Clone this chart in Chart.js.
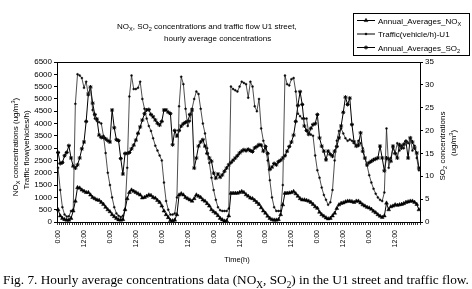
<!DOCTYPE html>
<html>
<head>
<meta charset="utf-8">
<script src="https://cdn.jsdelivr.net/npm/chart.js@4.4.1/dist/chart.umd.min.js"></script>
<style>
  html, body { margin: 0; padding: 0; background: #fff; }
  canvas { display: block; }
</style>
</head>
<body>
<canvas id="grafico" width="472" height="289"></canvas>
<script>
// 7 days of hourly values
const tickLabels = ['0:00', '12:00']
const hours = []
for (let d = 0; d < 7; d++) {
  for (let h = 0; h < 24; h++) hours.push(h === 0 ? tickLabels[0] : h === 12 ? tickLabels[1] : '')
}

// NOx (ug/m3) - left axis
const nox = [
  500, 250, 150, 100, 80, 80, 150, 450, 850, 1400, 1380, 1300, 1250, 1200, 1200, 1100, 1000, 950, 900, 880, 800, 720, 600, 500,
  420, 300, 220, 150, 90, 80, 100, 500, 950, 1200, 1300, 1250, 1200, 1150, 1100, 980, 1000, 1050, 1100, 1080, 1000, 970, 880, 800,
  650, 450, 300, 180, 60, 50, 80, 300, 1100, 1150, 1100, 1000, 950, 900, 850, 950, 1100, 1050, 1000, 900, 850, 750, 650, 500,
  420, 360, 260, 150, 90, 40, 50, 250, 1170, 1170, 1170, 1170, 1200, 1240, 1200, 1110, 1050, 975, 950, 880, 800, 720, 580, 450,
  360, 240, 150, 95, 80, 80, 100, 300, 700, 1170, 1170, 1180, 1200, 1240, 1150, 1050, 950, 900, 900, 880, 850, 800, 720, 620,
  560, 400, 300, 240, 170, 130, 150, 250, 360, 550, 700, 760, 780, 820, 850, 850, 830, 800, 850, 850, 780, 700, 650, 600,
  570, 520, 440, 380, 300, 240, 190, 250, 770, 500, 620, 650, 700, 680, 700, 720, 750, 800, 820, 850, 850, 800, 720, 500
]

// Traffic (vehicles/h) - left axis
const traffic = [
  2200, 1300, 600, 300, 220, 230, 450, 500, 4800, 6000, 5950, 5850, 5450, 5700, 5150, 5500, 4550, 4200, 4100, 4050, 4000, 3500, 2800, 2000,
  1500, 1000, 600, 350, 250, 200, 250, 500, 2200, 5100, 5950, 5400, 5400, 5450, 5700, 5000, 4600, 4200, 3900, 3700, 3400, 3100, 2900, 2700,
  2500, 1600, 850, 500, 300, 300, 350, 1000, 4700, 5900, 5600, 4600, 3900, 4100, 4600, 5000, 5300, 5200, 4600, 4000, 3600, 3000, 2400, 1800,
  1300, 900, 600, 480, 450, 450, 450, 550, 5500, 5400, 5350, 5300, 5500, 5700, 5650, 5600, 5050, 5700, 5500, 4700, 4500, 5000, 3800, 3300,
  3000, 2500, 1700, 1000, 600, 450, 450, 450, 1500, 5950, 5600, 5550, 5800, 5850, 5300, 4400, 4300, 4200, 4200, 4200, 3600, 3550, 3500, 2700,
  2100, 1800, 1400, 1100, 900, 700, 800, 1300, 2500, 3300, 3700, 3800, 3600, 3400, 3300, 3350, 3300, 3200, 3100, 3300, 3200, 3000, 2600, 2300,
  1900, 1600, 1350, 1150, 1000, 900, 850, 1200, 3800, 2200, 2600, 3000, 2800, 3200, 2900, 3100, 3000, 3300, 3200, 3400, 2900, 3100, 2600, 2100
]

// SO2 (ug/m3) - right axis
const so2 = [
  15.2, 12.8, 13, 14.5, 15.2, 16.7, 14, 12.2, 11.8, 12.5, 14, 16, 17.5, 22, 28, 29.5, 26, 23.5, 22.5, 19, 18.5, 18.5, 18.2, 17.8,
  17.5, 24.5, 20.6, 18, 17.8, 13.9, 10.5, 15, 15, 15.2, 16, 16.8, 17.9, 19.4, 20.8, 22.3, 23.7, 24.5, 24.6, 23.5, 23, 22.3, 21.6, 21.2,
  22, 24.5, 24.5, 24, 23.7, 16.9, 20, 18.8, 20, 21, 21.5, 21.8, 22, 23.5, 24.5, 11.8, 14, 16.6, 17.5, 18, 16.6, 15, 14, 13.3,
  10.7, 9.6, 10.5, 9.8, 10.3, 11.1, 11.8, 12.5, 13, 13.5, 14, 14.5, 15.1, 15.5, 15.8, 15.6, 15.9, 15.6, 15.4, 16.2, 16.5, 16.9, 16.8, 15.5,
  16.5, 15, 11.5, 12, 12.8, 12.5, 13.2, 13.5, 14, 14.5, 15.5, 16.5, 17.5, 19, 22, 25.5, 28.5, 25.7, 21, 20, 19.2, 20.5, 21.3, 21.5,
  23.5, 18.4, 16.6, 15.5, 13.6, 15.5, 14.8, 14.4, 15.5, 16.5, 18.4, 21, 24, 27.3, 25.7, 27.1, 21.3, 17.5, 16.6, 16.8, 19.5, 15.5, 14, 12.5,
  13, 13.3, 13.6, 13.8, 14, 16.6, 14, 11.2, 14, 13.8, 13.3, 16.6, 15, 14, 16.9, 16.2, 17, 17.6, 14, 18.4, 17.5, 16.2, 15.1, 11.8
]

const FONT = "'Liberation Sans', Arial, sans-serif"
const SERIF = "'Liberation Serif', 'Times New Roman', serif"

Chart.defaults.font.family = FONT
Chart.defaults.color = '#000'

// text with sub/superscripts: parts = [[text, 'sub'|'sup'|undefined], ...]
function richText(ctx, parts, x, y, size, family, align) {
  const small = size * 0.7
  let total = 0
  const widths = parts.map(([t, k]) => {
    ctx.font = (k ? small : size) + 'px ' + family
    const w = ctx.measureText(t).width
    total += w
    return w
  })
  let cx = align === 'center' ? x - total / 2 : align === 'right' ? x - total : x
  parts.forEach(([t, k], i) => {
    ctx.font = (k ? small : size) + 'px ' + family
    const dy = k === 'sub' ? size * 0.28 : k === 'sup' ? -size * 0.4 : 0
    ctx.fillText(t, cx, y + dy)
    cx += widths[i]
  })
}

function rotatedText(ctx, parts, x, y, size) {
  ctx.save()
  ctx.translate(x, y)
  ctx.rotate(-Math.PI / 2)
  richText(ctx, parts, 0, 0, size, FONT, 'center')
  ctx.restore()
}

const legendText = [
  [['Annual_Averages_NO'], ['X', 'sub']],
  [['Traffic(vehicle/h)-U1']],
  [['Annual_Averages_SO'], ['2', 'sub']]
]

const decor = {
  id: 'decor',
  beforeDraw(chart) {
    const ctx = chart.ctx
    ctx.save()
    ctx.fillStyle = '#fff'
    ctx.fillRect(0, 0, chart.width, chart.height)
    ctx.restore()
  },
  afterDraw(chart) {
    const { ctx, chartArea: a } = chart
    ctx.save()
    ctx.strokeStyle = '#000'
    ctx.fillStyle = '#000'
    ctx.lineWidth = 1
    ctx.textAlign = 'left'
    ctx.textBaseline = 'alphabetic'

    // top frame line
    ctx.beginPath()
    ctx.moveTo(a.left, Math.round(a.top) + 0.5)
    ctx.lineTo(a.right, Math.round(a.top) + 0.5)
    ctx.stroke()

    // chart title
    richText(ctx, [['NO'], ['X', 'sub'], [', SO'], ['2', 'sub'], [' concentrations and traffic flow U1 street,']], 117, 28.5, 8, FONT, 'left')
    richText(ctx, [['hourly average concentrations']], 164, 40.5, 8, FONT, 'left')

    // legend box
    ctx.lineWidth = 1
    ctx.strokeRect(353.5, 13.5, 116, 42)
    chart.data.datasets.forEach((ds, i) => {
      const yy = 20.5 + i * 13.5
      ctx.beginPath()
      ctx.lineWidth = 1
      ctx.moveTo(357, yy)
      ctx.lineTo(375, yy)
      ctx.stroke()
      ctx.lineWidth = ds.pointBorderWidth || 1
      Chart.helpers.drawPoint(ctx, { pointStyle: ds.pointStyle, radius: ds.pointRadius, borderWidth: ds.pointBorderWidth || 1, rotation: 0 }, 366, yy)
      richText(ctx, legendText[i], 378, yy + 3, 8, FONT, 'left')
    })

    // axis titles
    rotatedText(ctx, [['NO'], ['X', 'sub'], [' concentrations (ug/m'], ['3', 'sup'], [')']], 18, 147, 8)
    rotatedText(ctx, [['Traffic flow(vehicles/h)']], 29, 150, 8)
    rotatedText(ctx, [['SO'], ['2', 'sub'], [' concentrations']], 445, 146, 8)
    rotatedText(ctx, [['(ug/m'], ['3', 'sup'], [')']], 456, 143, 8)
    richText(ctx, [['Time(h)']], 237, 262, 7.5, FONT, 'center')

    // figure caption
    richText(ctx, [['Fig. 7. Hourly average concentrations data (NO'], ['X', 'sub'], [', SO'], ['2', 'sub'], [') in the U1 street and traffic flow.']], 3, 284, 13.3, SERIF, 'left')
    ctx.restore()
  }
}

const data = {
  labels: hours,
  datasets: [
    {
      label: 'Annual_Averages_NOX',
      data: nox,
      yAxisID: 'y',
      borderColor: '#000',
      backgroundColor: '#000',
      borderWidth: 1,
      pointStyle: 'triangle',
      pointRadius: 2.2,
      pointBorderWidth: 0.5
    },
    {
      label: 'Traffic(vehicle/h)-U1',
      data: traffic,
      yAxisID: 'y',
      borderColor: '#222',
      backgroundColor: '#000',
      borderWidth: 0.8,
      pointStyle: 'circle',
      pointRadius: 1,
      pointBorderWidth: 0.5
    },
    {
      label: 'Annual_Averages_SO2',
      data: so2,
      yAxisID: 'y1',
      borderColor: '#000',
      backgroundColor: '#000',
      borderWidth: 1,
      pointStyle: 'star',
      pointRadius: 2,
      pointBorderWidth: 1
    }
  ]
}

const config = {
  type: 'line',
  data,
  options: {
    responsive: false,
    animation: false,
    devicePixelRatio: 1,
    layout: { padding: { top: 62, left: 0, right: 0, bottom: 0 } },
    elements: { line: { tension: 0 } },
    plugins: {
      legend: { display: false },
      tooltip: { enabled: false }
    },
    scales: {
      x: {
        type: 'category',
        offset: true,
        grid: { display: true, offset: true, drawOnChartArea: false, tickLength: 3, color: '#000', lineWidth: 0.8 },
        border: { display: true, color: '#000', width: 1 },
        ticks: { autoSkip: false, minRotation: 90, maxRotation: 90, padding: 5, font: { size: 7 }, color: '#000' },
        afterFit(s) { s.height = 67 }
      },
      y: {
        position: 'left',
        min: 0,
        max: 6500,
        ticks: { stepSize: 500, autoSkip: false, maxTicksLimit: 20, padding: 2, font: { size: 8 }, color: '#000', callback: v => String(v) },
        grid: { drawOnChartArea: false, tickLength: 3, color: '#000' },
        border: { display: true, color: '#000', width: 1 },
        afterFit(s) { s.width = 57 }
      },
      y1: {
        position: 'right',
        min: 0,
        max: 35,
        ticks: { stepSize: 5, autoSkip: false, maxTicksLimit: 20, padding: 2, font: { size: 8 }, color: '#000', callback: v => String(v) },
        grid: { drawOnChartArea: false, tickLength: 3, color: '#000' },
        border: { display: true, color: '#000', width: 1 },
        afterFit(s) { s.width = 52 }
      }
    }
  },
  plugins: [decor]
}

const graph = new Chart(document.getElementById('grafico'), config)
</script>
</body>
</html>
